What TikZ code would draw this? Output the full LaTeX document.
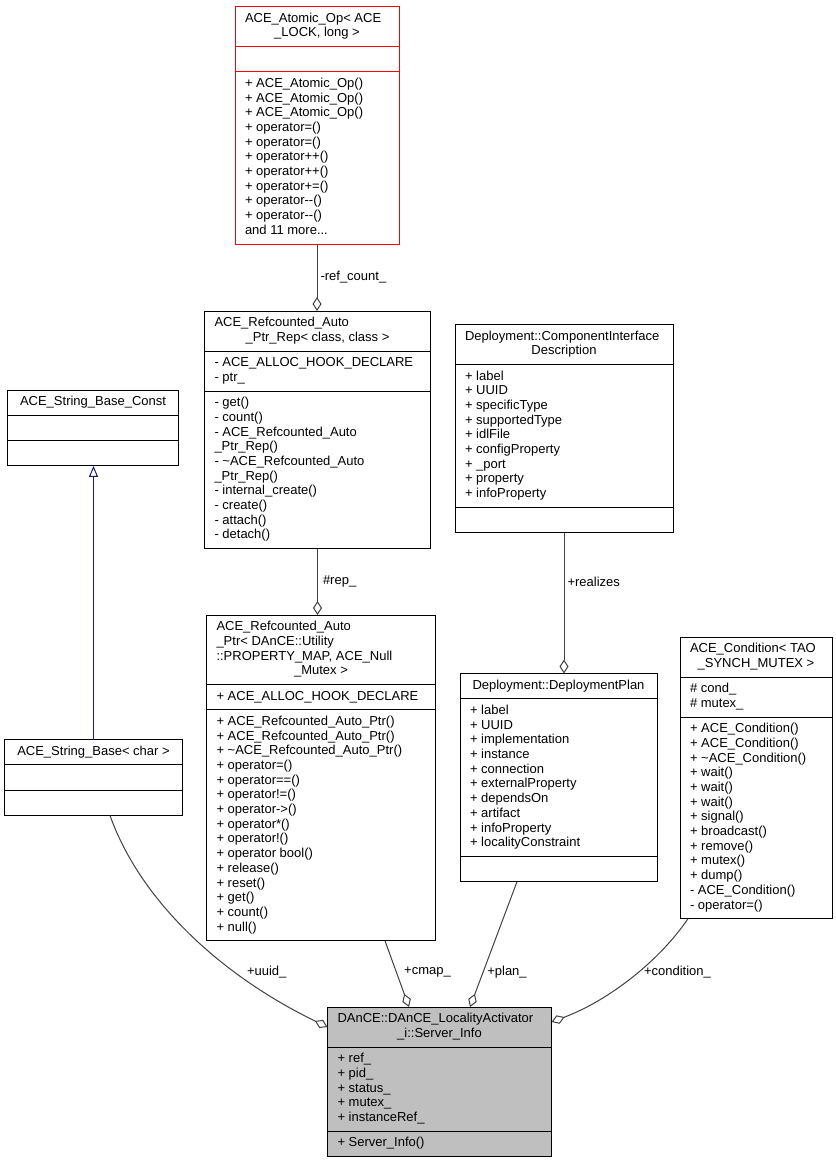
\documentclass[tikz,border=0pt]{standalone}
\usepackage{fontspec}
\setmainfont{Liberation Sans}
\usetikzlibrary{shapes.multipart, arrows.meta, positioning}

\definecolor{edgegray}{HTML}{404040}
\definecolor{inhblue}{HTML}{191970}
\definecolor{mainfill}{HTML}{BFBFBF}

\newcommand\dxfont{\fontsize{13}{14.7}\selectfont}
\newcommand\ctitle[3]{\makebox[#1][l]{\begin{tabular}{@{}l@{}}#2\makebox[#1]{#3}\end{tabular}}}
\newcommand\cpart[2]{\makebox[#1][l]{\begin{tabular}{@{}l@{}}#2\strut\end{tabular}}}

\tikzset{
  classbox/.style={rectangle split, rectangle split parts=3, draw=black, fill=white,
    line width=1pt, inner xsep=10pt, inner ysep=4.8pt, outer sep=0pt,
    anchor=north west, font=\dxfont},
  aggr/.style={draw=edgegray, line width=1pt, -{Diamond[open,length=14pt,width=9pt]}},
  inherit/.style={draw=inhblue, line width=1pt, -{Triangle[open,length=11pt,width=9pt]}},
  elabel/.style={font=\dxfont, inner sep=0pt}
}

\begin{document}
\begin{tikzpicture}[x=1pt, y=-1pt]
\useasboundingbox (0,0) rectangle (836,1163);

\node[classbox, draw=red] (atomic) at (235,6.5) {\ctitle{144pt}{ACE\_Atomic\_Op< ACE\\}{\_LOCK, long >}
  \nodepart{two}\cpart{144pt}{}
  \nodepart{three}\cpart{144pt}{+ ACE\_Atomic\_Op()\\+ ACE\_Atomic\_Op()\\+ ACE\_Atomic\_Op()\\+ operator=()\\+ operator=()\\+ operator++()\\+ operator++()\\+ operator+=()\\+ operator-{}-()\\+ operator-{}-()\\and 11 more...}};

\node[classbox] (rep) at (204.5,311) {\ctitle{206pt}{ACE\_Refcounted\_Auto\\}{\_Ptr\_Rep< class, class >}
  \nodepart{two}\cpart{206pt}{- ACE\_ALLOC\_HOOK\_DECLARE\\- ptr\_}
  \nodepart{three}\cpart{206pt}{- get()\\- count()\\- ACE\_Refcounted\_Auto\\\_Ptr\_Rep()\\- \textasciitilde ACE\_Refcounted\_Auto\\\_Ptr\_Rep()\\- internal\_create()\\- create()\\- attach()\\- detach()}};

\node[classbox] (sbc) at (7.5,390) {\ctitle{151pt}{}{ACE\_String\_Base\_Const}
  \nodepart{two}\cpart{151pt}{}
  \nodepart{three}\cpart{151pt}{}};

\node[classbox] (sb) at (4.5,739.5) {\ctitle{158pt}{}{ACE\_String\_Base< char >}
  \nodepart{two}\cpart{158pt}{}
  \nodepart{three}\cpart{158pt}{}};

\node[classbox] (cid) at (455,324.5) {\ctitle{198pt}{Deployment::ComponentInterface\\}{Description}
  \nodepart{two}\cpart{198pt}{+ label\\+ UUID\\+ specificType\\+ supportedType\\+ idlFile\\+ configProperty\\+ \_port\\+ property\\+ infoProperty}
  \nodepart{three}\cpart{198pt}{}};

\node[classbox] (ptr) at (206.5,615) {\ctitle{209pt}{ACE\_Refcounted\_Auto\\\_Ptr< DAnCE::Utility\\::PROPERTY\_MAP, ACE\_Null\\}{\_Mutex >}
  \nodepart{two}\cpart{209pt}{+ ACE\_ALLOC\_HOOK\_DECLARE}
  \nodepart{three}\cpart{209pt}{+ ACE\_Refcounted\_Auto\_Ptr()\\+ ACE\_Refcounted\_Auto\_Ptr()\\+ \textasciitilde ACE\_Refcounted\_Auto\_Ptr()\\+ operator=()\\+ operator==()\\+ operator!=()\\+ operator->()\\+ operator*()\\+ operator!()\\+ operator bool()\\+ release()\\+ reset()\\+ get()\\+ count()\\+ null()}};

\node[classbox] (plan) at (460,673.5) {\ctitle{177pt}{}{Deployment::DeploymentPlan}
  \nodepart{two}\cpart{177pt}{+ label\\+ UUID\\+ implementation\\+ instance\\+ connection\\+ externalProperty\\+ dependsOn\\+ artifact\\+ infoProperty\\+ localityConstraint}
  \nodepart{three}\cpart{177pt}{}};

\node[classbox] (cond) at (680,637) {\ctitle{132pt}{ACE\_Condition< TAO\\}{\_SYNCH\_MUTEX >}
  \nodepart{two}\cpart{132pt}{\# cond\_\\\# mutex\_}
  \nodepart{three}\cpart{132pt}{+ ACE\_Condition()\\+ ACE\_Condition()\\+ \textasciitilde ACE\_Condition()\\+ wait()\\+ wait()\\+ wait()\\+ signal()\\+ broadcast()\\+ remove()\\+ mutex()\\+ dump()\\- ACE\_Condition()\\- operator=()}};

\node[classbox, fill=mainfill] (main) at (327.5,1007) {\ctitle{204pt}{DAnCE::DAnCE\_LocalityActivator\\}{\_i::Server\_Info}
  \nodepart{two}\cpart{204pt}{+ ref\_\\+ pid\_\\+ status\_\\+ mutex\_\\+ instanceRef\_}
  \nodepart{three}\cpart{204pt}{+ Server\_Info()}};

\draw[aggr] (atomic.south) -- node[elabel, right=3pt] (refcountlbl) {-ref\_count\_} (atomic.south |- rep.north);
\draw[aggr] (rep.south) -- node[elabel, right=5pt] (replbl) {\#rep\_} (rep.south |- ptr.north);
\draw[aggr] (cid.south) -- node[elabel, pos=0.35, right=3pt] (realizeslbl) {+realizes} (cid.south |- plan.north);
\draw[inherit] (sb.north) -- (sb.north |- sbc.south);

\draw[aggr] ([xshift=16.5pt]sb.south) .. controls (140,900) and (220,975) .. ([yshift=-20pt]main.north west);
\draw[aggr] ([xshift=64pt]ptr.south) -- ([xshift=81.5pt]main.north west);
\draw[aggr] ([xshift=-41.5pt]plan.south) -- ([xshift=142.5pt]main.north west);
\draw[aggr] ([xshift=8pt]cond.south west) .. controls (660,960) and (610,1000) .. ([yshift=-15pt]main.north east);

\node[elabel] (uuidlbl) at (266.7,972) {+uuid\_};
\node[elabel] (cmaplbl) at (427.5,972) {+cmap\_};
\node[elabel] (planlbl) at (507,972) {+plan\_};
\node[elabel] (condlbl) at (677.5,972) {+condition\_};
\end{tikzpicture}
\end{document}
